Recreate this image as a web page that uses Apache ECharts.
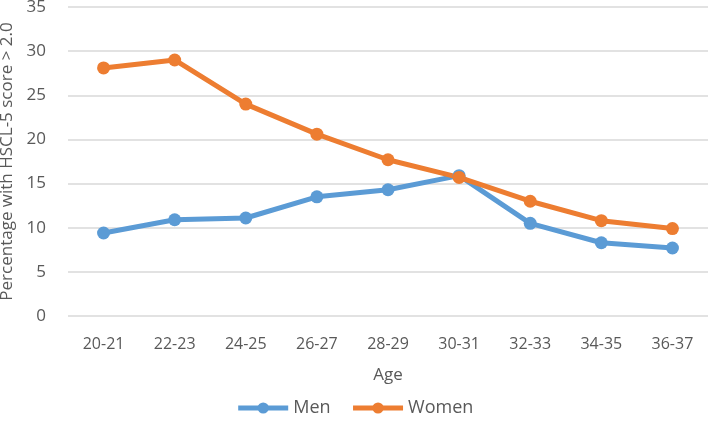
<!DOCTYPE html>
<html>
<head>
<meta charset="utf-8">
<script src="https://cdn.jsdelivr.net/npm/echarts@6/dist/echarts.min.js"></script>
<style>
    html, body { margin: 0; padding: 0; background: #fff; }
    #chart { width: 709px; height: 424px; }
</style>
</head>
<body>
<div id="chart"></div>
<script>
// age groups on the x axis
const ageGroups = ['20-21', '22-23', '24-25', '26-27', '28-29', '30-31', '32-33', '34-35', '36-37'];
// percentage with HSCL-5 score > 2.0
const menValues = [9.4, 10.9, 11.1, 13.5, 14.3, 15.9, 10.5, 8.3, 7.7];
const womenValues = [28.1, 29.0, 24.0, 20.6, 17.7, 15.7, 13.0, 10.8, 9.9];

const textColor = '#595959'
const font = 'Open Sans'

let chart = echarts.init(document.getElementById('chart'))
let option = {
    animation: false,
    color: ['#5B9BD5', '#ED7D31'],
    grid: {
        left: 68,
        right: 1,
        top: 7,
        bottom: 108,
        outerBoundsMode: 'none'
    },
    legend: {
        bottom: 2,
        left: 'center',
        itemWidth: 50,
        itemHeight: 14,
        itemGap: 20,
        lineStyle: { width: 5 },
        textStyle: { color: textColor, fontSize: 18, fontFamily: font },
        data: ['Men', 'Women']
    },
    xAxis: {
        type: 'category',
        data: ageGroups,
        name: 'Age',
        nameLocation: 'middle',
        nameGap: 51,
        nameTextStyle: { color: textColor, fontSize: 17, fontFamily: font },
        axisLine: { show: false },
        axisTick: { show: false },
        axisLabel: { color: textColor, fontSize: 16, fontFamily: font, margin: 20 }
    },
    yAxis: {
        type: 'value',
        min: 0,
        max: 35,
        interval: 5,
        name: 'Percentage with HSCL-5 score > 2.0',
        nameLocation: 'middle',
        nameGap: 41,
        nameTextStyle: { color: textColor, fontSize: 17, fontFamily: font },
        axisLabel: { color: textColor, fontSize: 17, fontFamily: font, margin: 22 },
        splitLine: { lineStyle: { color: '#d9d9d9', width: 1.5 } }
    },
    series: [
        {
            name: 'Men',
            type: 'line',
            data: menValues,
            symbol: 'circle',
            symbolSize: 13,
            lineStyle: { width: 5 }
        },
        {
            name: 'Women',
            type: 'line',
            data: womenValues,
            symbol: 'circle',
            symbolSize: 13,
            lineStyle: { width: 5 }
        }
    ]
}
chart.setOption(option)
</script>
</body>
</html>
